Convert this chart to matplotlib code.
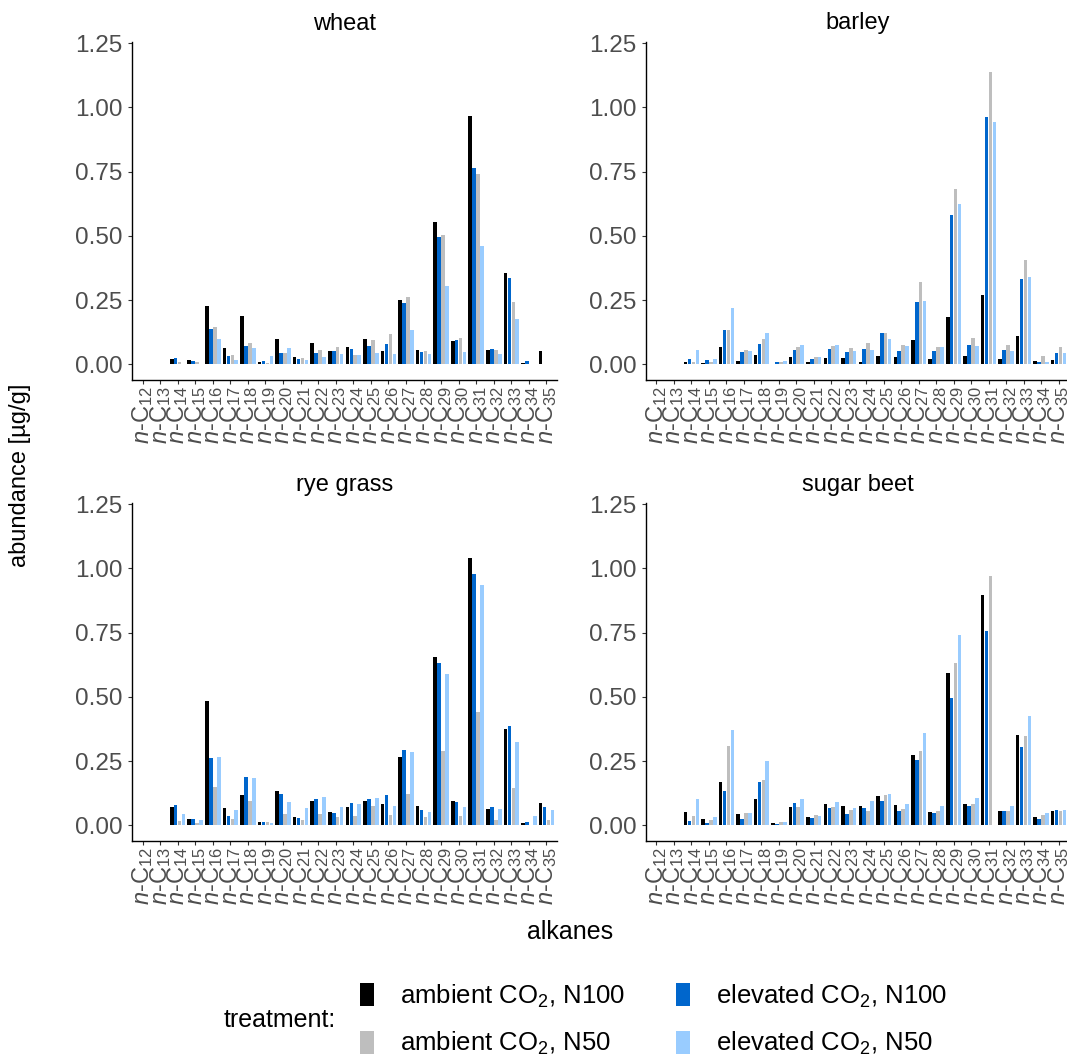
import numpy as np
import matplotlib
matplotlib.use("Agg")
import matplotlib.pyplot as plt
from matplotlib.patches import Patch

plt.rcParams['font.family'] = ['Liberation Sans', 'DejaVu Sans']
plt.rcParams['mathtext.fontset'] = 'custom'
plt.rcParams['mathtext.rm'] = 'Liberation Sans'
plt.rcParams['mathtext.it'] = 'Liberation Sans:italic'

# chain lengths n-C12 ... n-C35
chain_length = list(range(12, 36))
tick_labels = [r'$\mathit{n}$-C$_{%d}$' % c for c in chain_length]

treatments = ['ambient CO$_2$, N100', 'elevated CO$_2$, N100',
              'ambient CO$_2$, N50', 'elevated CO$_2$, N50']
colors = ['#000000', '#0066CC', '#BEBEBE', '#99CCFF']

# abundance [ug/g], order: C12 ... C35
wheat_amb_n100 = [0, 0, 0.021, 0.017, 0.228, 0.065, 0.190, 0.009, 0.100, 0.029, 0.082, 0.053,
                  0.067, 0.097, 0.053, 0.251, 0.057, 0.556, 0.090, 0.967, 0.055, 0.356, 0.006, 0.053]
wheat_ele_n100 = [0, 0, 0.023, 0.013, 0.139, 0.032, 0.071, 0.014, 0.043, 0.021, 0.043, 0.051,
                  0.061, 0.071, 0.078, 0.238, 0.047, 0.496, 0.093, 0.763, 0.061, 0.336, 0.014, 0]
wheat_amb_n50 = [0, 0, 0.010, 0.010, 0.147, 0.035, 0.082, 0.006, 0.045, 0.025, 0.057, 0.067,
                 0.035, 0.093, 0.117, 0.261, 0.053, 0.502, 0.101, 0.741, 0.055, 0.241, 0, 0]
wheat_ele_n50 = [0, 0, 0, 0, 0.097, 0.017, 0.062, 0.031, 0.064, 0.017, 0.029, 0.039,
                 0.035, 0.043, 0.039, 0.134, 0.039, 0.305, 0.047, 0.459, 0.039, 0.177, 0, 0]

barley_amb_n100 = [0, 0, 0.010, 0.005, 0.066, 0.013, 0.038, 0.003, 0.027, 0.009, 0.023, 0.023,
                   0.008, 0.034, 0.027, 0.096, 0.019, 0.184, 0.034, 0.271, 0.019, 0.109, 0.013, 0.017]
barley_ele_n100 = [0, 0, 0.021, 0.016, 0.135, 0.048, 0.080, 0.008, 0.056, 0.022, 0.061, 0.048,
                   0.060, 0.123, 0.052, 0.243, 0.053, 0.582, 0.074, 0.962, 0.056, 0.332, 0.009, 0.043]
barley_amb_n50 = [0, 0, 0.010, 0.010, 0.135, 0.056, 0.099, 0.008, 0.066, 0.027, 0.073, 0.062,
                  0.084, 0.123, 0.074, 0.320, 0.066, 0.682, 0.102, 1.140, 0.077, 0.406, 0.034, 0.069]
barley_ele_n50 = [0, 0, 0.056, 0.022, 0.220, 0.052, 0.123, 0.013, 0.077, 0.030, 0.077, 0.052,
                  0.056, 0.099, 0.070, 0.246, 0.067, 0.625, 0.070, 0.942, 0.052, 0.341, 0.008, 0.043]

rye_amb_n100 = [0, 0, 0.071, 0.025, 0.483, 0.067, 0.117, 0.013, 0.135, 0.031, 0.093, 0.053,
                0.071, 0.096, 0.082, 0.265, 0.075, 0.655, 0.096, 1.042, 0.064, 0.376, 0.010, 0.086]
rye_ele_n100 = [0, 0, 0.078, 0.025, 0.262, 0.035, 0.187, 0.013, 0.121, 0.030, 0.103, 0.049,
                0.088, 0.104, 0.117, 0.292, 0.060, 0.631, 0.092, 0.980, 0.070, 0.386, 0.013, 0.070]
rye_amb_n50 = [0, 0, 0.017, 0.010, 0.149, 0.025, 0.096, 0.013, 0.044, 0.021, 0.043, 0.032,
               0.035, 0.074, 0.040, 0.122, 0.032, 0.289, 0.036, 0.441, 0.021, 0.144, 0, 0.021]
rye_ele_n50 = [0, 0, 0.045, 0.019, 0.265, 0.060, 0.183, 0.009, 0.090, 0.067, 0.110, 0.071,
               0.082, 0.106, 0.075, 0.286, 0.052, 0.588, 0.071, 0.935, 0.064, 0.326, 0.036, 0.058]

beet_amb_n100 = [0, 0, 0.052, 0.023, 0.167, 0.044, 0.103, 0.009, 0.070, 0.031, 0.082, 0.075,
                 0.075, 0.114, 0.078, 0.275, 0.053, 0.594, 0.082, 0.898, 0.056, 0.350, 0.032, 0.056]
beet_ele_n100 = [0, 0, 0.017, 0.010, 0.135, 0.023, 0.167, 0.006, 0.086, 0.029, 0.067, 0.045,
                 0.067, 0.093, 0.056, 0.253, 0.049, 0.497, 0.075, 0.755, 0.056, 0.304, 0.023, 0.060]
beet_amb_n50 = [0, 0, 0.035, 0.022, 0.308, 0.048, 0.178, 0.012, 0.071, 0.039, 0.071, 0.060,
                0.056, 0.117, 0.064, 0.289, 0.056, 0.633, 0.082, 0.970, 0.056, 0.347, 0.040, 0.055]
beet_ele_n50 = [0, 0, 0.103, 0.032, 0.371, 0.048, 0.251, 0.012, 0.103, 0.036, 0.092, 0.067,
                0.096, 0.121, 0.082, 0.358, 0.075, 0.741, 0.106, 0, 0.075, 0.424, 0.049, 0.058]

panels = [
    ('wheat', [wheat_amb_n100, wheat_ele_n100, wheat_amb_n50, wheat_ele_n50]),
    ('barley', [barley_amb_n100, barley_ele_n100, barley_amb_n50, barley_ele_n50]),
    ('rye grass', [rye_amb_n100, rye_ele_n100, rye_amb_n50, rye_ele_n50]),
    ('sugar beet', [beet_amb_n100, beet_ele_n100, beet_amb_n50, beet_ele_n50]),
]

W, H = 1067, 1062
fig = plt.figure(figsize=(W / 100, H / 100), dpi=100)

# axes rectangles in pixels: left, top, width, height
rects = [(132, 42, 425, 338), (646, 42, 423, 338),
         (132, 503, 425, 338), (646, 503, 423, 338)]

x = np.arange(len(chain_length))
dodge = 0.225
for (title, series), (l, t, w, h) in zip(panels, rects):
    ax = fig.add_axes([l / W, 1 - (t + h) / H, w / W, h / H])
    for k, (vals, col) in enumerate(zip(series, colors)):
        ax.bar(x + (k - 1.5) * dodge, vals, width=0.205, color=col, linewidth=0)
    ax.set_xlim(-0.6, len(x) - 0.4)
    ax.set_ylim(-0.061, 1.255)
    ax.set_yticks([0, 0.25, 0.5, 0.75, 1.0, 1.25])
    ax.set_yticklabels(['0.00', '0.25', '0.50', '0.75', '1.00', '1.25'])
    ax.set_xticks(x)
    ax.set_xticklabels(tick_labels, rotation=90)
    ax.tick_params(axis='y', labelsize=17.5, labelcolor='#4D4D4D', color='#333333',
                   length=3, width=0.8, pad=4)
    ax.tick_params(axis='x', labelsize=17, labelcolor='#4D4D4D', color='#333333',
                   length=3, width=0.8, pad=1.5)
    for s in ['top', 'right']:
        ax.spines[s].set_visible(False)
    for s in ['left', 'bottom']:
        ax.spines[s].set_linewidth(1.0)
        ax.spines[s].set_color('black')
    ax.set_title(title, fontsize=17, color='black', pad=9)

fig.text(20 / W, 1 - 475 / H, 'abundance [µg/g]', rotation=90, fontsize=17,
         ha='center', va='center')
fig.text(570 / W, 1 - 932 / H, 'alkanes', fontsize=18, ha='center', va='center')
fig.text(280 / W, 1 - 1020 / H, 'treatment:', fontsize=18, ha='center', va='center')

handles = [Patch(facecolor=c, edgecolor='none') for c in colors]
# column-wise filling: first column ambient, second column elevated
order = [0, 2, 1, 3]
fig.legend([handles[i] for i in order], [treatments[i] for i in order],
           ncol=2, loc='center left', bbox_to_anchor=(347 / W, 1 - 1020 / H),
           frameon=False, fontsize=18.5, handlelength=0.55, handleheight=1.0,
           handletextpad=1.0, columnspacing=2.0, labelspacing=0.8, borderpad=0)

fig.savefig('out.png', dpi=100)
